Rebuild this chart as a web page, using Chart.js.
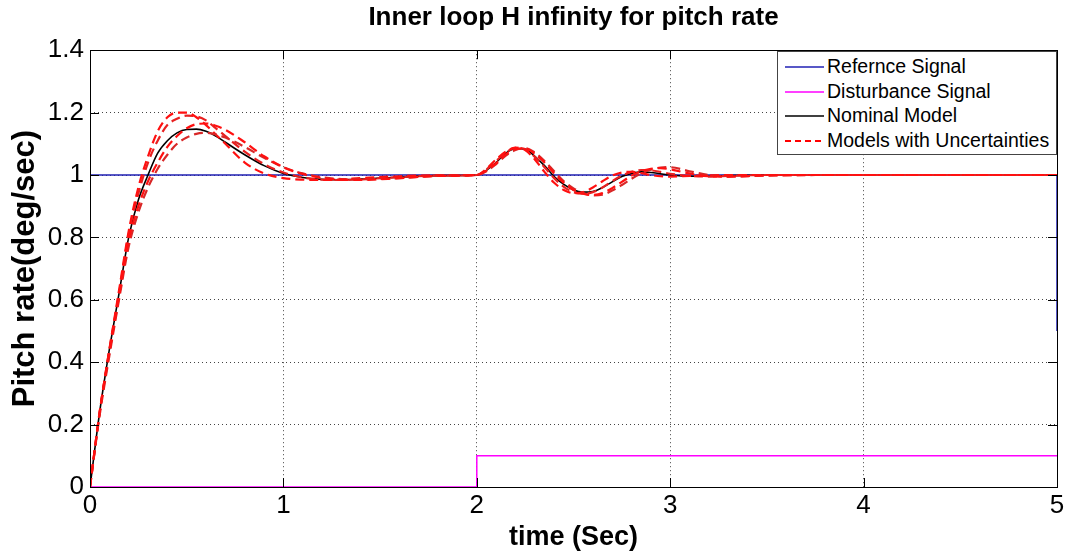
<!DOCTYPE html>
<html>
<head>
    <title>Inner loop H infinity for pitch rate</title>
    <script src="https://cdn.jsdelivr.net/npm/chart.js"></script>
    <style>
        body { margin: 0; background: #fff; font-family: "Liberation Sans", Arial, sans-serif; }
        #wrap { position: relative; width: 1070px; height: 554px; }
        #legend {
            position: absolute; left: 777px; top: 51px; width: 278px; height: 102px;
            border: 1px solid #444; background: #fff; font-size: 19.5px; color: #000;
        }
        .row { position: absolute; left: 6px; height: 24px; line-height: 24px; white-space: nowrap; }
        .row svg { position: absolute; left: 0; top: 11px; }
        .row span { position: absolute; left: 43px; top: 0; }
    </style>
</head>
<body>
<div id="wrap">
    <canvas id="chart" width="1070" height="554"></canvas>
    <div id="legend"></div>
</div>

<script>
    // time axis (sec) shared by the model responses
    const time = [0, 0.05, 0.1, 0.15, 0.2, 0.25, 0.3, 0.35, 0.4, 0.45, 0.5, 0.55, 0.6, 0.65, 0.7, 0.8, 0.9, 1.0,
        1.1, 1.2, 1.3, 1.4, 1.6, 1.8, 2.0, 2.05, 2.1, 2.15, 2.2, 2.25, 2.3, 2.35, 2.4, 2.45, 2.5, 2.55, 2.6,
        2.65, 2.7, 2.75, 2.8, 2.85, 2.9, 2.95, 3.0, 3.1, 3.2, 3.3, 3.5, 3.8, 4.2, 5.0];

    // reference and disturbance steps
    const refT = [0, 5, 5];
    const refY = [1, 1, 0.5];
    const distT = [0, 2, 2, 5];
    const distY = [0, 0, 0.1, 0.1];

    const nominal = [0, 0.24, 0.44, 0.62, 0.8, 0.92, 1.0, 1.07, 1.11, 1.135, 1.146, 1.147, 1.14, 1.125, 1.105,
        1.065, 1.03, 1.005, 0.992, 0.986, 0.985, 0.987, 0.993, 0.998, 1.0, 1.015, 1.04, 1.07, 1.085, 1.083,
        1.06, 1.03, 0.995, 0.97, 0.952, 0.945, 0.947, 0.96, 0.978, 0.995, 1.005, 1.01, 1.008, 1.004, 1.0,
        0.996, 0.996, 0.998, 1.0, 1.0, 1.0, 1.0];

    const uncert1 = [0, 0.24, 0.44, 0.63, 0.82, 0.96, 1.06, 1.14, 1.185, 1.2, 1.2, 1.185, 1.16, 1.13, 1.1,
        1.04, 1.005, 0.99, 0.985, 0.984, 0.986, 0.99, 0.996, 0.999, 1.0, 1.02, 1.05, 1.075, 1.088, 1.08,
        1.05, 1.01, 0.975, 0.952, 0.942, 0.945, 0.96, 0.98, 0.998, 1.008, 1.01, 1.006, 1.0, 0.996, 0.995,
        0.997, 0.999, 1.0, 1.0, 1.0, 1.0, 1.0];
    const uncert2 = [0, 0.24, 0.44, 0.62, 0.81, 0.94, 1.04, 1.11, 1.16, 1.18, 1.19, 1.188, 1.175, 1.15, 1.125,
        1.075, 1.035, 1.008, 0.992, 0.985, 0.984, 0.986, 0.993, 0.998, 1.0, 1.018, 1.045, 1.072, 1.087, 1.083,
        1.058, 1.025, 0.99, 0.962, 0.945, 0.94, 0.945, 0.96, 0.98, 0.998, 1.01, 1.016, 1.015, 1.01, 1.004,
        0.997, 0.995, 0.997, 1.0, 1.0, 1.0, 1.0];
    const uncert3 = [0, 0.24, 0.43, 0.61, 0.79, 0.9, 0.98, 1.04, 1.09, 1.125, 1.15, 1.163, 1.165, 1.158, 1.145,
        1.105, 1.06, 1.025, 1.003, 0.99, 0.985, 0.984, 0.99, 0.997, 1.0, 1.014, 1.038, 1.066, 1.083, 1.085,
        1.068, 1.04, 1.005, 0.975, 0.952, 0.94, 0.936, 0.942, 0.958, 0.978, 0.998, 1.012, 1.02, 1.022, 1.018,
        1.005, 0.996, 0.995, 0.999, 1.0, 1.0, 1.0];
    const uncert4 = [0, 0.23, 0.42, 0.6, 0.77, 0.88, 0.96, 1.02, 1.065, 1.1, 1.12, 1.132, 1.135, 1.13, 1.12,
        1.09, 1.055, 1.025, 1.005, 0.993, 0.987, 0.986, 0.99, 0.997, 1.0, 1.012, 1.035, 1.062, 1.08, 1.086,
        1.072, 1.045, 1.012, 0.98, 0.957, 0.942, 0.935, 0.937, 0.95, 0.968, 0.988, 1.005, 1.017, 1.024, 1.025,
        1.012, 1.0, 0.995, 0.998, 1.0, 1.0, 1.0];

    const xTicks = [0, 1, 2, 3, 4, 5];
    const yTicks = [0, 0.2, 0.4, 0.6, 0.8, 1, 1.2, 1.4];

    const legendItems = ['Refernce Signal', 'Disturbance Signal', 'Nominal Model', 'Models with Uncertainties'];
    const legendColors = ['#2020b4', '#ff00ff', '#000000', '#ff0000'];

    function pts(xs, ys) {
        return xs.map((x, i) => ({ x: x, y: ys[i] }));
    }

    function modelSet(vals, color, width, dash, order) {
        return {
            data: pts(time, vals),
            borderColor: color,
            borderWidth: width,
            borderDash: dash,
            cubicInterpolationMode: 'monotone',
            pointRadius: 0,
            fill: false,
            order: order
        };
    }

    // frame around the plot and inward tick marks, like MATLAB axes
    const framePlugin = {
        id: 'frame',
        afterDatasetsDraw(chart) {
            const { ctx, chartArea: a, scales } = chart;
            ctx.save();
            ctx.strokeStyle = '#000';
            ctx.lineWidth = 1;
            ctx.setLineDash([]);
            ctx.beginPath();
            xTicks.forEach(v => {
                const px = Math.round(scales.x.getPixelForValue(v)) + 0.5;
                ctx.moveTo(px, a.bottom); ctx.lineTo(px, a.bottom - 9);
                ctx.moveTo(px, a.top); ctx.lineTo(px, a.top + 9);
            });
            yTicks.forEach(v => {
                const py = Math.round(scales.y.getPixelForValue(v)) + 0.5;
                ctx.moveTo(a.left, py); ctx.lineTo(a.left + 9, py);
                ctx.moveTo(a.right, py); ctx.lineTo(a.right - 9, py);
            });
            ctx.stroke();
            ctx.strokeRect(Math.round(a.left) + 0.5, Math.round(a.top) + 0.5,
                Math.round(a.right - a.left), Math.round(a.bottom - a.top));
            ctx.restore();
        }
    };

    const ctx = document.getElementById('chart').getContext('2d');
    new Chart(ctx, {
        type: 'line',
        data: {
            datasets: [
                { data: pts(refT, refY), borderColor: legendColors[0], borderWidth: 1.5, pointRadius: 0, tension: 0, order: 5 },
                { data: pts(distT, distY), borderColor: legendColors[1], borderWidth: 1.5, pointRadius: 0, tension: 0, order: 4 },
                modelSet(nominal, '#000000', 1.6, [], 3),
                modelSet(uncert1, '#ff1010', 2.2, [9, 5], 2),
                modelSet(uncert2, '#e82020', 2.2, [9, 5], 2),
                modelSet(uncert3, '#ff1010', 2.2, [9, 5], 1),
                modelSet(uncert4, '#d82828', 2.2, [9, 5], 1)
            ]
        },
        options: {
            responsive: false,
            animation: false,
            layout: { padding: { left: 0, right: 13, top: 0, bottom: 0 } },
            plugins: {
                legend: { display: false },
                tooltip: { enabled: false },
                title: {
                    display: true,
                    fullSize: false,
                    text: 'Inner loop H infinity for pitch rate',
                    color: '#000',
                    font: { family: 'Liberation Sans', size: 26, weight: 'bold', lineHeight: 1.2 },
                    padding: { top: 2, bottom: 17 }
                }
            },
            scales: {
                x: {
                    type: 'linear',
                    min: 0, max: 5,
                    afterBuildTicks: s => { s.ticks = xTicks.map(v => ({ value: v })); },
                    afterFit: s => { s.height = 67; },
                    ticks: {
                        color: '#000', padding: 3,
                        font: { family: 'Liberation Sans', size: 26 },
                        maxRotation: 0
                    },
                    grid: { color: '#444', lineWidth: 1, borderDash: [1, 3], drawTicks: false },
                    border: { display: false, dash: [1, 3] },
                    title: {
                        display: true, text: 'time (Sec)', color: '#000',
                        font: { family: 'Liberation Sans', size: 27, weight: 'bold', lineHeight: 1.2 },
                        padding: { top: 0, bottom: 0 }
                    }
                },
                y: {
                    min: 0, max: 1.4,
                    afterBuildTicks: s => { s.ticks = yTicks.map(v => ({ value: v })); },
                    afterFit: s => { s.width = 90; },
                    ticks: {
                        color: '#000', padding: 6,
                        font: { family: 'Liberation Sans', size: 26 },
                        callback: v => String(Math.round(v * 10) / 10)
                    },
                    grid: { color: '#444', lineWidth: 1, borderDash: [1, 3], drawTicks: false },
                    border: { display: false, dash: [1, 3] },
                    title: {
                        display: true, text: 'Pitch rate(deg/sec)', color: '#000',
                        font: { family: 'Liberation Sans', size: 31, weight: 'bold', lineHeight: 1.61 },
                        padding: { top: 0, bottom: 0 }
                    }
                }
            }
        },
        plugins: [framePlugin]
    });

    // legend box inside the plot, top right
    const legend = document.getElementById('legend');
    legendItems.forEach((label, i) => {
        const row = document.createElement('div');
        row.className = 'row';
        row.style.top = (2 + i * 24.5) + 'px';
        const dash = i === 3 ? ' stroke-dasharray="6,4"' : '';
        const w = i === 3 ? 2 : 1.5;
        row.innerHTML = '<svg width="40" height="4"><line x1="1" y1="2" x2="40" y2="2" stroke="' +
            legendColors[i] + '" stroke-width="' + w + '"' + dash + '/></svg><span>' + label + '</span>';
        legend.appendChild(row);
    });
</script>
</body>
</html>
